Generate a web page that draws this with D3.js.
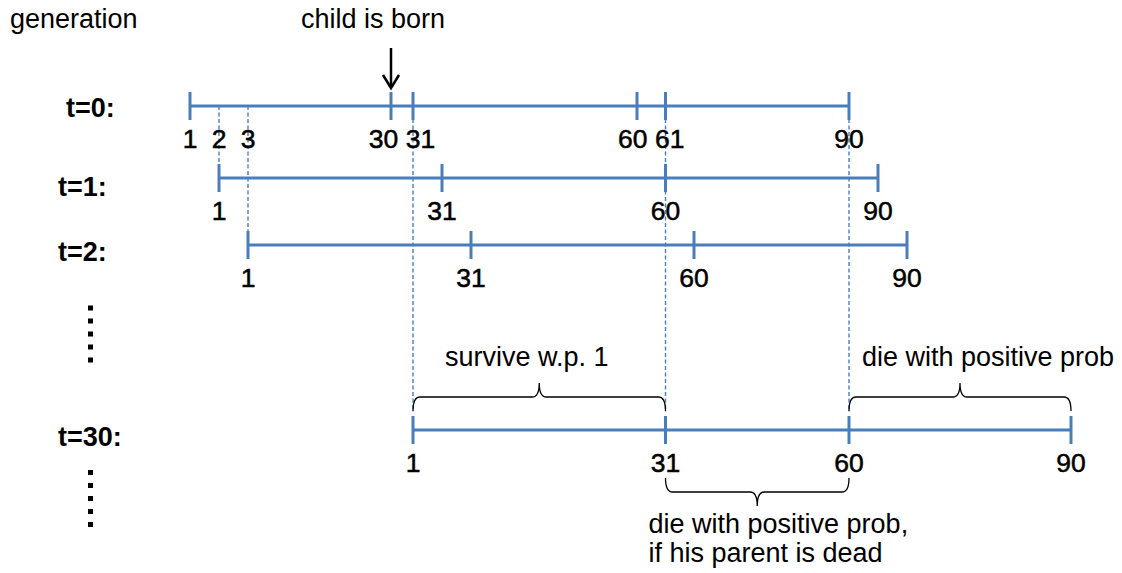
<!DOCTYPE html>
<html>
<head>
<meta charset="utf-8">
<script src="https://cdn.jsdelivr.net/npm/d3@7"></script>
<style>
  body { margin: 0; background: #fff; }
</style>
</head>
<body>
<div id="canvas"></div>
<script>
// generations and the ages drawn on each of them
const generations = [0, 1, 2, 30],
    genLabels = ['t=0:', 't=1:', 't=2:', 't=30:'],
    tickAges = [[1, 30, 31, 60, 61, 90], [1, 31, 60, 90], [1, 31, 60, 90], [1, 31, 60, 90]],
    labelAges = [[1, 2, 3, 30, 31, 60, 61, 90], [1, 31, 60, 90], [1, 31, 60, 90], [1, 31, 60, 90]],
    lifeSpan = 90,
    bornAt = 30;

// dashed guides: calendar time, and the generation they run down to
const guideTimes = [2, 3, 31, 61, 90],
    guideTo = [1, 2, 30, 30, 30];

// braces on generation 30, in calendar time
const braceFrom = [31, 90, 61],
    braceTo = [61, 120, 90],
    braceSide = [-1, -1, 1],
    braceText = [['survive w.p. 1'], ['die with positive prob'], ['die with positive prob,', 'if his parent is dead']];

const w = 1122,
    h = 573,
    blue = '#4a7ebb',
    font = 'Liberation Sans, Arial, sans-serif',
    svg = d3.select('#canvas').append('svg')
        .attr('width', w)
        .attr('height', h);

// schematic time axis: one year is wide near the marked ages, the long stretches are squeezed
const x = d3.scaleLinear()
    .domain([1, 3, 30, 31, 33, 60, 62, 90, 92, 120])
    .range([190, 248, 391, 413, 471, 637, 694, 849, 907, 1071]);

const y = d3.scaleLinear()
    .domain([0, 1, 2, 30])
    .range([106, 178, 245, 430]);

function textStyle(text) {
    text.attr('font-family', font)
        .attr('font-size', '27px')
        .attr('fill', '#000');
}

// titles
svg.append('text')
    .attr('x', 10)
    .attr('y', 28)
    .text('generation')
    .call(textStyle);

svg.append('text')
    .attr('x', x(bornAt) - 18)
    .attr('y', 28)
    .attr('text-anchor', 'middle')
    .text('child is born')
    .call(textStyle);

// arrow
svg.append('path')
    .attr('d', 'M' + x(bornAt) + ',' + (y(0) - 58) + 'V' + (y(0) - 19))
    .attr('stroke', '#000')
    .attr('stroke-width', 2.5)
    .attr('fill', 'none');
svg.append('path')
    .attr('d', 'M' + (x(bornAt) - 8) + ',' + (y(0) - 31) + 'L' + x(bornAt) + ',' + (y(0) - 18) +
        'L' + (x(bornAt) + 8) + ',' + (y(0) - 31))
    .attr('stroke', '#000')
    .attr('stroke-width', 2.5)
    .attr('fill', 'none');

// dashed guides
svg.selectAll('.guide')
    .data(guideTimes)
    .enter().append('line')
    .attr('class', 'guide')
    .attr('x1', d => x(d))
    .attr('x2', d => x(d))
    .attr('y1', y(0))
    .attr('y2', (d, i) => y(guideTo[i]) - (guideTo[i] === 30 ? 18 : 14))
    .attr('stroke', blue)
    .attr('stroke-width', 1.4)
    .attr('stroke-dasharray', '4,2.5');

// one timeline per generation
const labelDy = [11, 18, 16, 16],
    labelX = [66, 58, 58, 58];

generations.forEach(function (g, i) {
    const row = svg.append('g'),
        yy = y(g);

    row.append('text')
        .attr('x', labelX[i])
        .attr('y', yy + labelDy[i])
        .text(genLabels[i])
        .call(textStyle)
        .attr('font-weight', 'bold');

    row.append('line')
        .attr('x1', x(g + 1))
        .attr('x2', x(g + lifeSpan))
        .attr('y1', yy)
        .attr('y2', yy)
        .attr('stroke', blue)
        .attr('stroke-width', 3);

    row.selectAll('.tick')
        .data(tickAges[i])
        .enter().append('line')
        .attr('x1', d => x(g + d))
        .attr('x2', d => x(g + d))
        .attr('y1', yy - 14)
        .attr('y2', yy + 14)
        .attr('stroke', blue)
        .attr('stroke-width', 3);

    // push apart labels of neighbouring ages so they do not collide
    const pos = labelAges[i].map(d => x(g + d)),
        wid = labelAges[i].map(d => String(d).length * 15),
        shift = pos.map(() => 0);
    for (let k = 1; k < pos.length; k++) {
        const need = (wid[k - 1] + wid[k]) / 2 + 7,
            gap = pos[k] - pos[k - 1];
        if (gap < need) {
            shift[k - 1] -= (need - gap) / 2;
            shift[k] += (need - gap) / 2;
        }
    }

    row.selectAll('.lab')
        .data(labelAges[i])
        .enter().append('text')
        .attr('x', (d, k) => pos[k] + shift[k])
        .attr('y', yy + 42)
        .attr('text-anchor', 'middle')
        .text(d => d)
        .call(textStyle)
        .attr('font-size', '26.5px')
        .attr('stroke', '#000')
        .attr('stroke-width', 0.5);
});

// vertical ellipses
const dotRows = [(y(2) + y(30)) / 2 - 4, y(30) + 68];
dotRows.forEach(function (cy) {
    svg.selectAll(null)
        .data(d3.range(5))
        .enter().append('rect')
        .attr('x', 88)
        .attr('y', d => cy - 28 + d * 13)
        .attr('width', 5)
        .attr('height', 5)
        .attr('fill', '#000');
});

// braces
function bracePath(x1, x2, yEnd, dir) {
    const yH = yEnd + dir * 14,
        yP = yH + dir * 14,
        m = (x1 + x2) / 2,
        r = 7;
    return 'M' + x1 + ',' + yEnd +
        'Q' + x1 + ',' + yH + ' ' + (x1 + r) + ',' + yH +
        'L' + (m - r) + ',' + yH +
        'Q' + m + ',' + yH + ' ' + m + ',' + yP +
        'Q' + m + ',' + yH + ' ' + (m + r) + ',' + yH +
        'L' + (x2 - r) + ',' + yH +
        'Q' + x2 + ',' + yH + ' ' + x2 + ',' + yEnd;
}

const braceDx = [32, 13, -17],
    yb = y(30);

braceFrom.forEach(function (t0, i) {
    const up = braceSide[i] < 0,
        yEnd = up ? yb - 19 : yb + 48;

    svg.append('path')
        .attr('d', bracePath(x(t0), x(braceTo[i]), yEnd, braceSide[i]))
        .attr('stroke', '#000')
        .attr('stroke-width', 1.3)
        .attr('fill', 'none');

    svg.selectAll(null)
        .data(braceText[i])
        .enter().append('text')
        .attr('x', x(t0) + braceDx[i])
        .attr('y', (d, k) => (up ? yb - 64 : yb + 103) + k * 29)
        .text(d => d)
        .call(textStyle);
});
</script>
</body>
</html>
